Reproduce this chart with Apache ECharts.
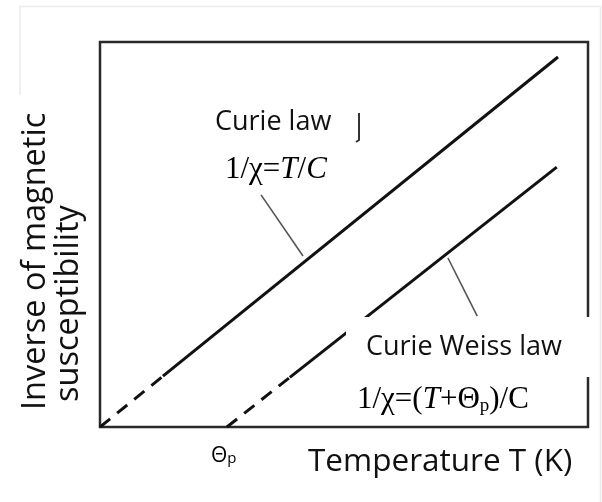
<!DOCTYPE html>
<html><head><meta charset="utf-8">
<script src="https://cdn.jsdelivr.net/npm/echarts@6/dist/echarts.min.js"></script>
<style>html,body{margin:0;padding:0;background:#fff}#c{width:602px;height:502px}</style>
</head><body><div id="c"></div>
<script>
// data in arbitrary units (x: temperature, y: 1/chi), axes 0..100
const curieDashed = [[0, 0], [12.9, 13.2]];
const curieSolid = [[12.9, 13.2], [93.85, 96.1]];
const weissDashed = [[26.0, 0], [38.9, 12.9]];
const weissSolid = [[38.9, 12.9], [93.6, 67.5]];
const curieLeader = [[33.0, 60.3], [41.6, 44.4]];
const weissLeader = [[71.3, 43.9], [77.3, 28.8]];

const xTitle = 'Temperature T (K)';
const yTitleLines = ['Inverse of magnetic', 'susceptibility'];
const curieLabel = 'Curie law';
const weissLabel = 'Curie Weiss law';

const chart = echarts.init(document.getElementById('c'), null, {renderer: 'canvas'});
const SANS = '"Open Sans", "Noto Sans", sans-serif';
const SERIF = '"Liberation Serif", "DejaVu Serif", serif';

function seg(data, dashed, width, color) {
  return {
    type: 'line', data: data, symbol: 'none', silent: true,
    lineStyle: {width: width, color: color, type: dashed ? [13, 9] : 'solid', cap: 'butt'},
    z: 3
  };
}

function txt(x, y, text, size, extra) {
  return Object.assign({
    type: 'text', x: x, y: y, z: 120,
    style: {text: text, font: size + 'px ' + SANS, fill: '#111',
      align: 'left', verticalAlign: 'middle', textAlign: 'left', textVerticalAlign: 'middle'}
  }, extra || {});
}

const serifRich = {
  n: {fontFamily: SERIF, fontSize: 31, color: '#444'},
  i: {fontFamily: SERIF, fontSize: 31, fontStyle: 'italic', color: '#444'},
  s: {fontFamily: SERIF, fontSize: 19, color: '#444', verticalAlign: 'bottom'}
};

chart.setOption({
  animation: false,
  backgroundColor: '#fff',
  grid: {left: 100, top: 42, width: 488, height: 385, show: true,
    borderColor: '#2a2a2a', borderWidth: 2.5, backgroundColor: 'transparent'},
  xAxis: {type: 'value', min: 0, max: 100,
    axisLine: {show: false}, axisTick: {show: false}, axisLabel: {show: false}, splitLine: {show: false}},
  yAxis: {type: 'value', min: 0, max: 100,
    axisLine: {show: false}, axisTick: {show: false}, axisLabel: {show: false}, splitLine: {show: false}},
  series: [
    seg(curieDashed, true, 3, '#111'),
    seg(curieSolid, false, 3, '#111'),
    seg(weissDashed, true, 3, '#111'),
    seg(weissSolid, false, 3, '#111'),
    seg(curieLeader, false, 1.6, '#555'),
    seg(weissLeader, false, 1.6, '#555')
  ],
  graphic: [
    // faint outer frame
    {type: 'polyline', z: 1, shape: {points: [[20, 95], [20, 6.5], [600.5, 6.5], [600.5, 502]]},
      style: {stroke: '#ececec', lineWidth: 1.5, fill: null}},
    // white box behind "Curie Weiss law"
    {type: 'rect', z: 110, shape: {x: 346, y: 317, width: 250, height: 60}, style: {fill: '#fff'}},
    // small stray mark
    {type: 'polyline', z: 110, shape: {points: [[359, 113], [359, 140], [356, 142]]},
      style: {stroke: '#333', lineWidth: 2, fill: null}},
    txt(215, 122, curieLabel, 27),
    txt(366, 347, weissLabel, 27),
    txt(308, 462, xTitle, 31.5),
    txt(36, 410, yTitleLines[0], 32.5, {rotation: Math.PI / 2}),
    txt(69, 402, yTitleLines[1], 32.5, {rotation: Math.PI / 2}),
    {type: 'text', x: 225, y: 170, z: 120,
      style: {text: '{n|1/χ=}{i|T}{n|/}{i|C}', rich: serifRich,
        align: 'left', verticalAlign: 'middle', textAlign: 'left', textVerticalAlign: 'middle'}},
    {type: 'text', x: 357, y: 400, z: 120,
      style: {text: '{n|1/χ=(}{i|T}{n|+Θ}{s|p}{n|)/C}', rich: serifRich,
        align: 'left', verticalAlign: 'middle', textAlign: 'left', textVerticalAlign: 'middle'}},
    {type: 'text', x: 211, y: 456, z: 120,
      style: {text: '{t|Θ}{p|p}', rich: {
          t: {fontFamily: SANS, fontSize: 21, color: '#555'},
          p: {fontFamily: SANS, fontSize: 15, color: '#555', verticalAlign: 'bottom'}},
        align: 'left', verticalAlign: 'middle', textAlign: 'left', textVerticalAlign: 'middle'}}
  ]
});
</script></body></html>
